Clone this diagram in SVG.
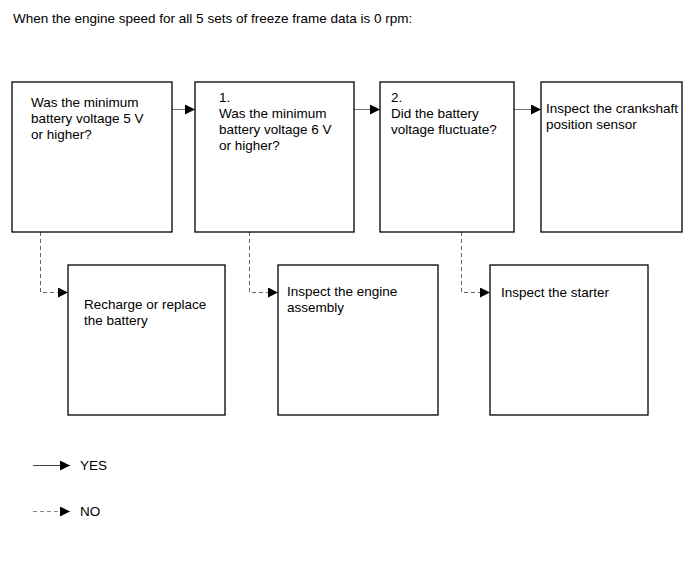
<svg xmlns="http://www.w3.org/2000/svg" width="690" height="564" viewBox="0 0 690 564">
<style>
text{font-family:"Liberation Sans",Arial,sans-serif;font-size:13.5px;fill:#000}
.box{fill:#fff;stroke:#000;stroke-width:1.3}
.yes{stroke:#777;stroke-width:1;fill:none}
.no{stroke:#666;stroke-width:1;fill:none;stroke-dasharray:4 3}
</style>
<defs>
<marker id="ah" markerWidth="10" markerHeight="10" refX="10" refY="5" orient="auto" markerUnits="userSpaceOnUse">
<path d="M0,0 L10,5 L0,10 Z" fill="#000"/>
</marker>
</defs>
<rect width="690" height="564" fill="#fff"/>
<text x="13" y="23">When the engine speed for all 5 sets of freeze frame data is 0 rpm:</text>
<g id="connectors">
<path class="yes" d="M172,109.5 H195" marker-end="url(#ah)"/>
<path class="yes" d="M354,109.5 H380" marker-end="url(#ah)"/>
<path class="yes" d="M514,109.5 H541" marker-end="url(#ah)"/>
<path class="no" d="M40.5,232 V292.5 H68" marker-end="url(#ah)"/>
<path class="no" d="M249.5,232 V292.5 H278" marker-end="url(#ah)"/>
<path class="no" d="M461.5,232 V292.5 H490" marker-end="url(#ah)"/>
</g>
<g id="n1"><rect class="box" x="12" y="82" width="160" height="150"/>
<text x="31" y="107">Was the minimum</text><text x="31" y="123">battery voltage 5 V</text><text x="31" y="139">or higher?</text></g>
<g id="n2"><rect class="box" x="195" y="82" width="159" height="150"/>
<text x="219" y="102">1.</text><text x="219" y="118">Was the minimum</text><text x="219" y="134">battery voltage 6 V</text><text x="219" y="150">or higher?</text></g>
<g id="n3"><rect class="box" x="380" y="82" width="134" height="150"/>
<text x="391" y="102">2.</text><text x="391" y="118">Did the battery</text><text x="391" y="134">voltage fluctuate?</text></g>
<g id="n4"><rect class="box" x="541" y="82" width="141" height="150"/>
<text x="546" y="113">Inspect the crankshaft</text><text x="546" y="129">position sensor</text></g>
<g id="n5"><rect class="box" x="68" y="265" width="157" height="150"/>
<text x="84" y="309">Recharge or replace</text><text x="84" y="325">the battery</text></g>
<g id="n6"><rect class="box" x="278" y="265" width="160" height="150"/>
<text x="287" y="296">Inspect the engine</text><text x="287" y="312">assembly</text></g>
<g id="n7"><rect class="box" x="490" y="265" width="158" height="150"/>
<text x="501" y="297">Inspect the starter</text></g>
<g id="legend">
<path class="yes" d="M33,465.5 H70" style="stroke:#444" marker-end="url(#ah)"/>
<text x="80" y="470">YES</text>
<path class="no" d="M33,511.5 H70" style="stroke:#888" marker-end="url(#ah)"/>
<text x="80" y="516">NO</text>
</g>
</svg>
